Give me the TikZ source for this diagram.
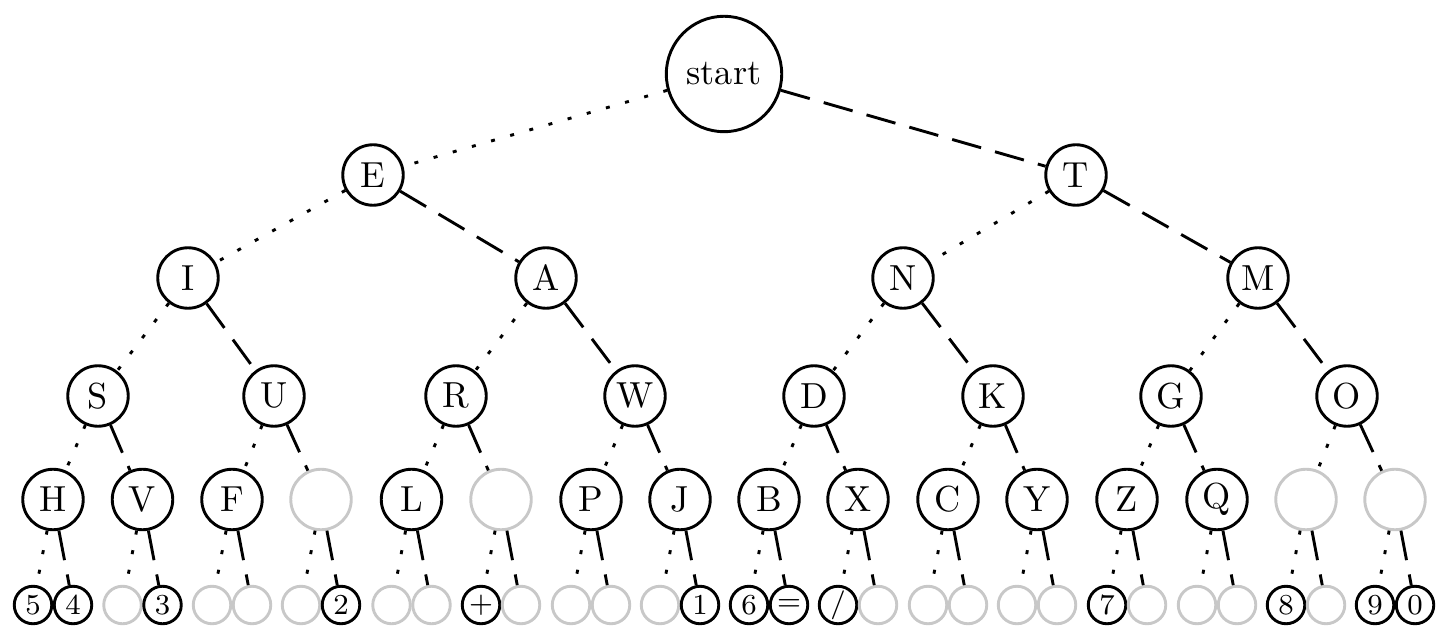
\documentclass[tikz,border=0pt]{standalone}
\definecolor{lightgrey}{RGB}{200,200,200}
\tikzset{
  letter/.style={circle,draw,thick,minimum size=0.587cm,inner sep=0pt},
  rootnode/.style={circle,draw,thick,minimum size=1.12cm,inner sep=0pt},
  leaf/.style={circle,draw,thick,minimum size=0.364cm,inner sep=0pt,font=\footnotesize},
  ghost/.style={draw=lightgrey},
  dotedge/.style={thick,dash pattern=on 1.1pt off 4.4pt},
  dashedge/.style={thick,dash pattern=on 8.3pt off 4pt},
}
\begin{document}
\begin{tikzpicture}[x=0.0097cm,y=-0.0097cm]
\useasboundingbox (0,0) rectangle (1437,629);
% root
\node[rootnode] (root) at (724,74) {start};
% level 1
\node[letter] (E) at (373,175) {E};
\node[letter] (T) at (1076,175) {T};
% level 2
\node[letter] (I) at (188,278) {I};
\node[letter] (A) at (546,278) {A};
\node[letter] (N) at (903,278) {N};
\node[letter] (M) at (1258,278) {M};
% level 3
\node[letter] (S) at (98,396) {S};
\node[letter] (U) at (274,396) {U};
\node[letter] (R) at (456,396) {R};
\node[letter] (W) at (635,396) {W};
\node[letter] (D) at (814,396) {D};
\node[letter] (K) at (993,396) {K};
\node[letter] (G) at (1171,396) {G};
\node[letter] (O) at (1347,396) {O};
% level 4
\node[letter] (H) at (53,499.5) {H};
\node[letter] (V) at (142.5,499.5) {V};
\node[letter] (F) at (232,499.5) {F};
\node[letter,ghost] (u2) at (321,499.5) {};
\node[letter] (L) at (411.5,499.5) {L};
\node[letter,ghost] (a2) at (501,499.5) {};
\node[letter] (P) at (591,499.5) {P};
\node[letter] (J) at (680,499.5) {J};
\node[letter] (B) at (769,499.5) {B};
\node[letter] (X) at (858,499.5) {X};
\node[letter] (C) at (948,499.5) {C};
\node[letter] (Y) at (1037,499.5) {Y};
\node[letter] (Z) at (1127,499.5) {Z};
\node[letter] (Q) at (1217,499.5) {Q};
\node[letter,ghost] (o1) at (1306,499.5) {};
\node[letter,ghost] (o2) at (1395,499.5) {};
% level 5
\node[leaf] (h1) at (33,605) {5};
\node[leaf] (h2) at (73,605) {4};
\node[leaf,ghost] (v1) at (122.5,605) {};
\node[leaf] (v2) at (162.5,605) {3};
\node[leaf,ghost] (f1) at (212,605) {};
\node[leaf,ghost] (f2) at (252,605) {};
\node[leaf,ghost] (u21) at (301,605) {};
\node[leaf] (u22) at (341,605) {2};
\node[leaf,ghost] (l1) at (391.5,605) {};
\node[leaf,ghost] (l2) at (431.5,605) {};
\node[leaf] (a21) at (481,605) {+};
\node[leaf,ghost] (a22) at (521,605) {};
\node[leaf,ghost] (p1) at (571,605) {};
\node[leaf,ghost] (p2) at (611,605) {};
\node[leaf,ghost] (j1) at (660,605) {};
\node[leaf] (j2) at (700,605) {1};
\node[leaf] (b1) at (749,605) {6};
\node[leaf] (b2) at (789,605) {=};
\node[leaf] (x1) at (838,605) {/};
\node[leaf,ghost] (x2) at (878,605) {};
\node[leaf,ghost] (c1) at (928,605) {};
\node[leaf,ghost] (c2) at (968,605) {};
\node[leaf,ghost] (y1) at (1017,605) {};
\node[leaf,ghost] (y2) at (1057,605) {};
\node[leaf] (z1) at (1107,605) {7};
\node[leaf,ghost] (z2) at (1147,605) {};
\node[leaf,ghost] (q1) at (1197,605) {};
\node[leaf,ghost] (q2) at (1237,605) {};
\node[leaf] (o11) at (1286,605) {8};
\node[leaf,ghost] (o12) at (1326,605) {};
\node[leaf] (o21) at (1375,605) {9};
\node[leaf] (o22) at (1415,605) {0};
% edges
\draw[dotedge] (root) -- (E);  \draw[dashedge] (root) -- (T);
\draw[dotedge] (E) -- (I);     \draw[dashedge] (E) -- (A);
\draw[dotedge] (T) -- (N);     \draw[dashedge] (T) -- (M);
\draw[dotedge] (I) -- (S);     \draw[dashedge] (I) -- (U);
\draw[dotedge] (A) -- (R);     \draw[dashedge] (A) -- (W);
\draw[dotedge] (N) -- (D);     \draw[dashedge] (N) -- (K);
\draw[dotedge] (M) -- (G);     \draw[dashedge] (M) -- (O);
\draw[dotedge] (S) -- (H);     \draw[dashedge] (S) -- (V);
\draw[dotedge] (U) -- (F);     \draw[dashedge] (U) -- (u2);
\draw[dotedge] (R) -- (L);     \draw[dashedge] (R) -- (a2);
\draw[dotedge] (W) -- (P);     \draw[dashedge] (W) -- (J);
\draw[dotedge] (D) -- (B);     \draw[dashedge] (D) -- (X);
\draw[dotedge] (K) -- (C);     \draw[dashedge] (K) -- (Y);
\draw[dotedge] (G) -- (Z);     \draw[dashedge] (G) -- (Q);
\draw[dotedge] (O) -- (o1);    \draw[dashedge] (O) -- (o2);
\draw[dotedge] (H) -- (h1);    \draw[dashedge] (H) -- (h2);
\draw[dotedge] (V) -- (v1);    \draw[dashedge] (V) -- (v2);
\draw[dotedge] (F) -- (f1);    \draw[dashedge] (F) -- (f2);
\draw[dotedge] (u2) -- (u21);  \draw[dashedge] (u2) -- (u22);
\draw[dotedge] (L) -- (l1);    \draw[dashedge] (L) -- (l2);
\draw[dotedge] (a2) -- (a21);  \draw[dashedge] (a2) -- (a22);
\draw[dotedge] (P) -- (p1);    \draw[dashedge] (P) -- (p2);
\draw[dotedge] (J) -- (j1);    \draw[dashedge] (J) -- (j2);
\draw[dotedge] (B) -- (b1);    \draw[dashedge] (B) -- (b2);
\draw[dotedge] (X) -- (x1);    \draw[dashedge] (X) -- (x2);
\draw[dotedge] (C) -- (c1);    \draw[dashedge] (C) -- (c2);
\draw[dotedge] (Y) -- (y1);    \draw[dashedge] (Y) -- (y2);
\draw[dotedge] (Z) -- (z1);    \draw[dashedge] (Z) -- (z2);
\draw[dotedge] (Q) -- (q1);    \draw[dashedge] (Q) -- (q2);
\draw[dotedge] (o1) -- (o11);  \draw[dashedge] (o1) -- (o12);
\draw[dotedge] (o2) -- (o21);  \draw[dashedge] (o2) -- (o22);
\end{tikzpicture}
\end{document}
